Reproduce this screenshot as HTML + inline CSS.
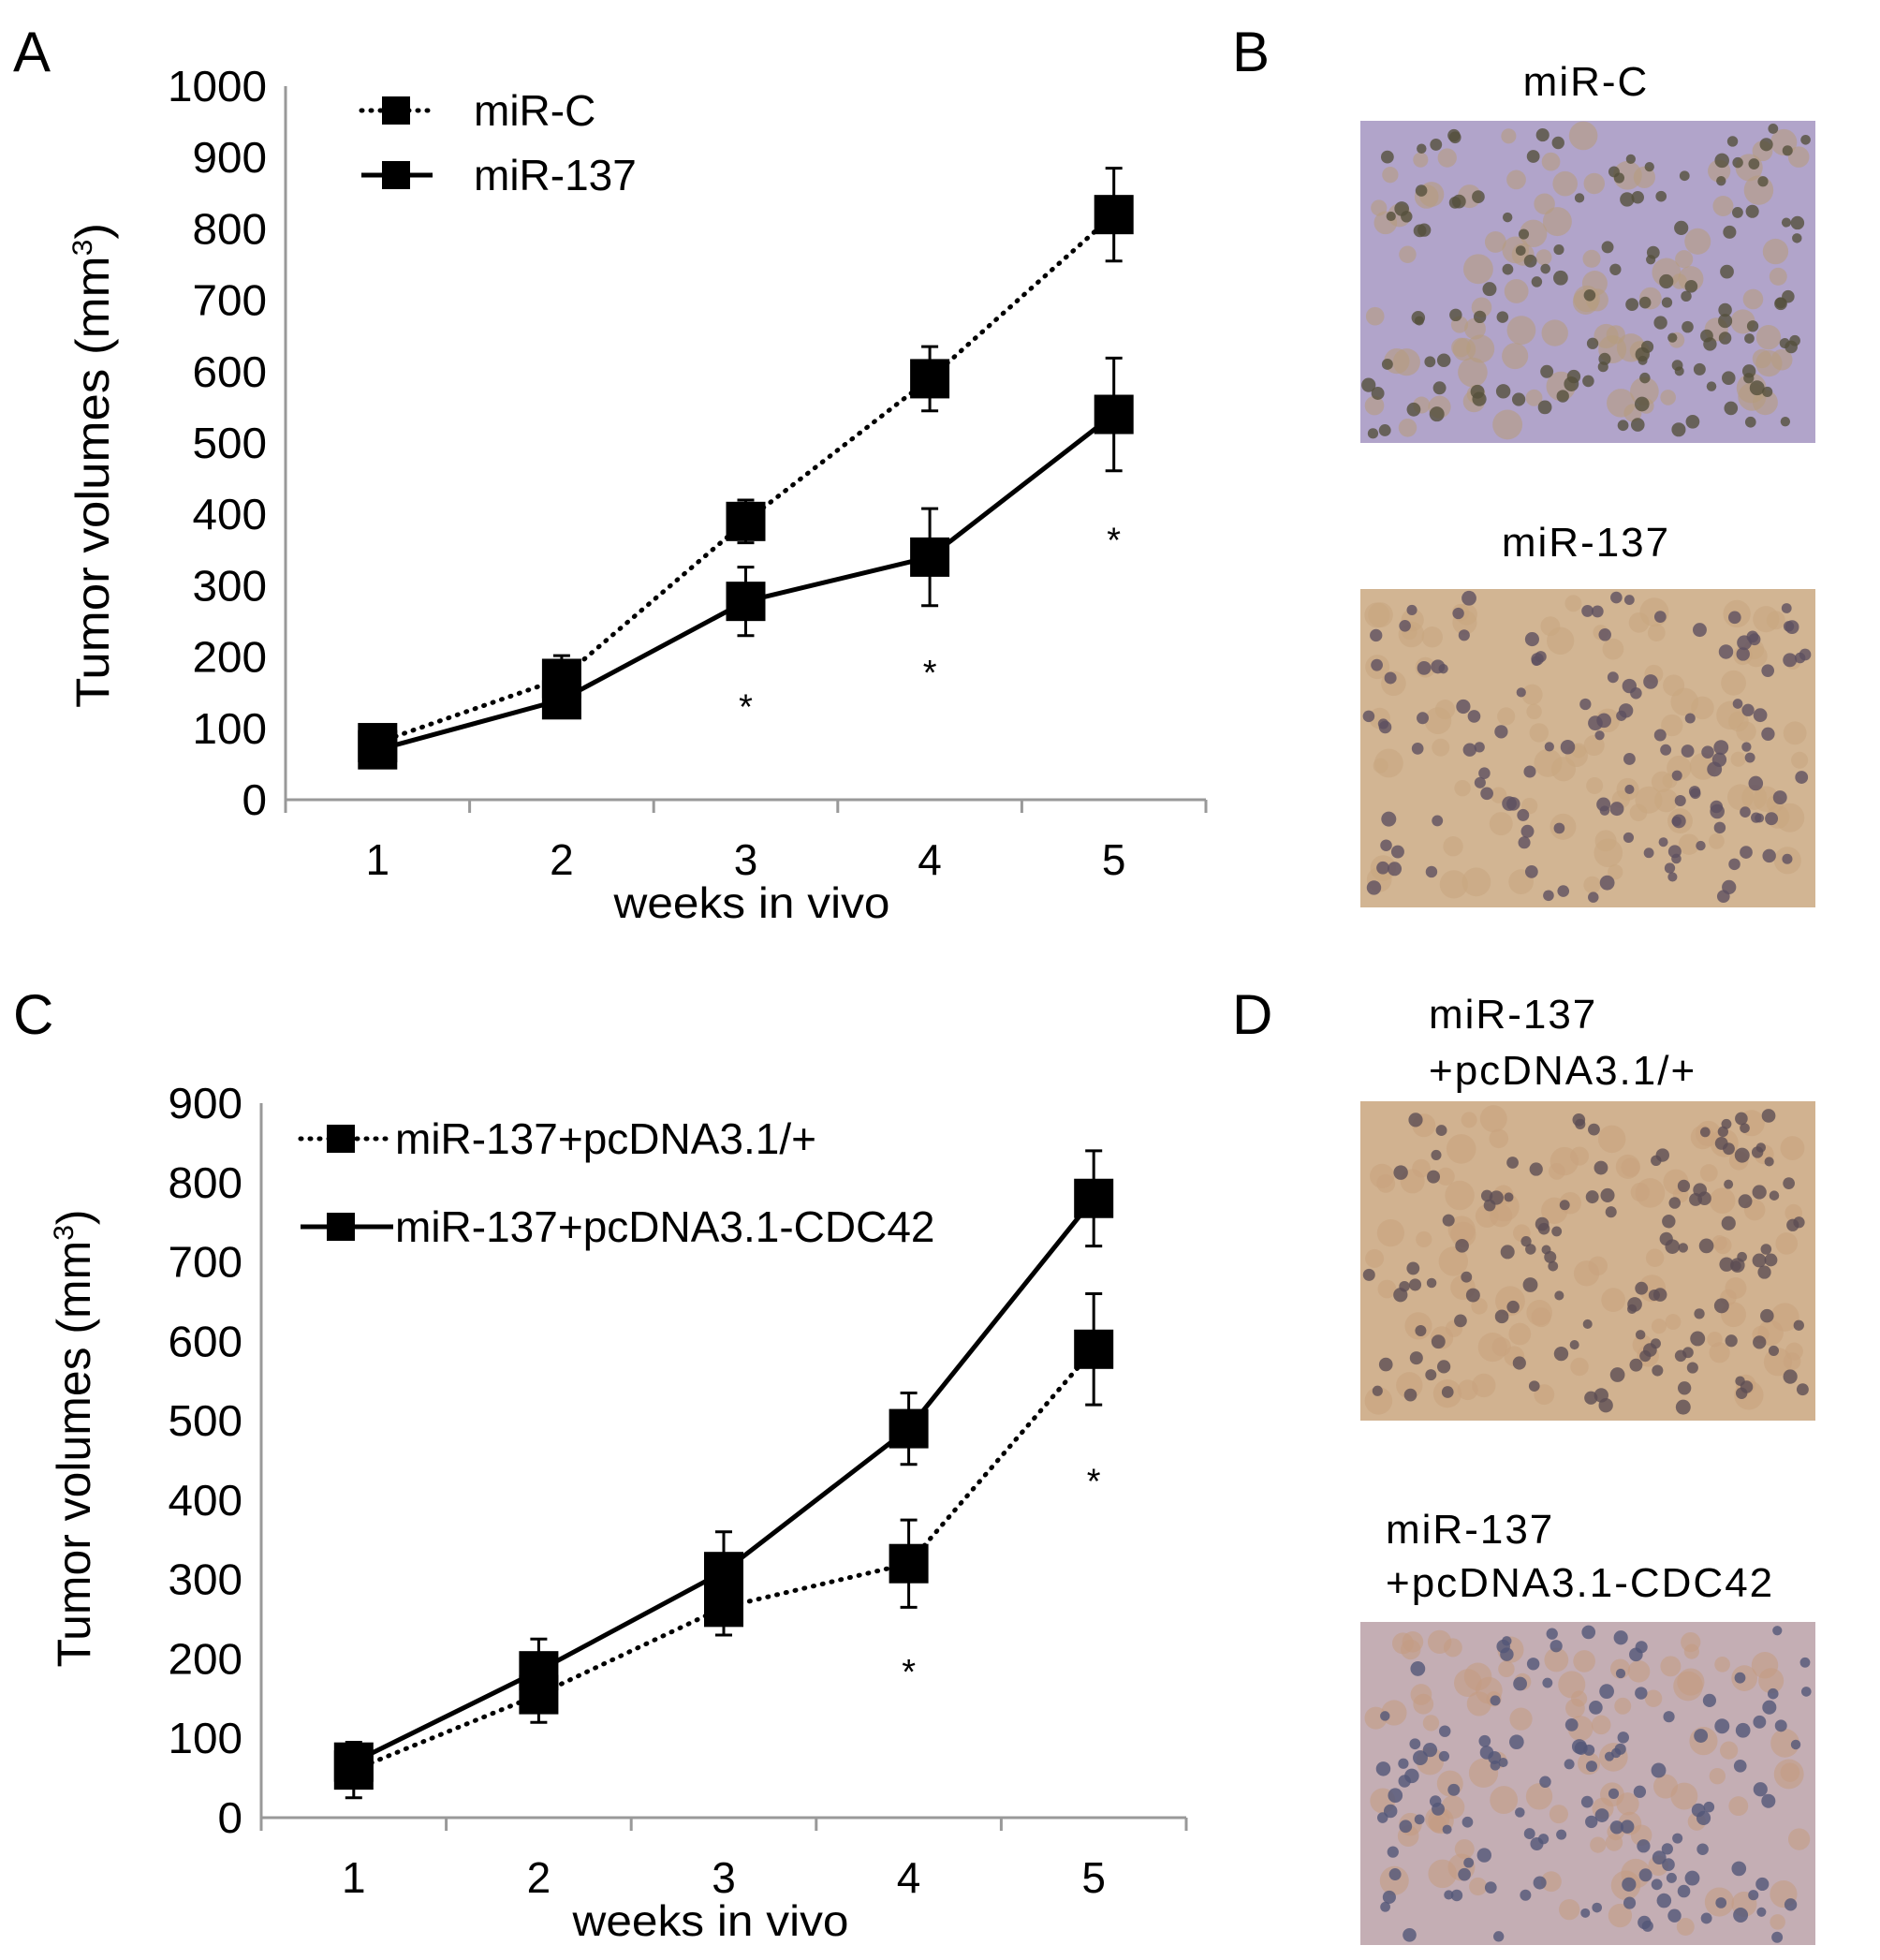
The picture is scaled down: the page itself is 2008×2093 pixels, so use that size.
<!DOCTYPE html>
<html><head><meta charset="utf-8">
<style>
html,body{margin:0;padding:0;background:#fff;}
svg{display:block;font-family:"Liberation Sans",Arial,sans-serif;}
</style></head>
<body>
<svg id="fig" width="2008" height="2093" viewBox="0 0 2008 2093" xmlns="http://www.w3.org/2000/svg">
<rect width="2008" height="2093" fill="#fff"/>
<text x="14" y="76" font-size="60">A</text>
<text x="1316" y="76" font-size="60">B</text>
<text x="14" y="1104" font-size="60">C</text>
<text x="1316" y="1104" font-size="60">D</text>

<text x="1694" y="102" font-size="44" text-anchor="middle" letter-spacing="2">miR-C</text>
<text x="1694" y="594" font-size="44" text-anchor="middle" letter-spacing="2">miR-137</text>
<text x="1526" y="1098" font-size="44" letter-spacing="2">miR-137</text>
<text x="1526" y="1158" font-size="44" letter-spacing="2">+pcDNA3.1/+</text>
<text x="1480" y="1648" font-size="44" letter-spacing="2">miR-137</text>
<text x="1480" y="1705" font-size="44" letter-spacing="2">+pcDNA3.1-CDC42</text>
<g id="imgs"></g>
<g id="chartA"></g>
<g id="chartC"></g>
</svg>
<script>
// ---- Chart A data ----
const weeksA = ["1","2","3","4","5"];
const mirC = [80, 170, 390, 590, 820];
const mirCErr = [12, 32, 30, 45, 65];
const mir137 = [70, 140, 278, 340, 540];
const mir137Err = [12, 15, 48, 68, 79];
const yTicksA = [0,100,200,300,400,500,600,700,800,900,1000];
const starsA = [[2,137],[3,185],[4,371]];
// ---- Chart C data ----
const weeksC = ["1","2","3","4","5"];
const pcdna = [60, 155, 265, 320, 590];
const pcdnaErr = [35, 35, 35, 55, 70];
const cdc42 = [70, 185, 310, 490, 780];
const cdc42Err = [20, 40, 50, 45, 60];
const yTicksC = [0,100,200,300,400,500,600,700,800,900];
const starsC = [[3,190],[4,430]];

const NS="http://www.w3.org/2000/svg";
function mk(parent, tag, attrs){const e=document.createElementNS(NS,tag);for(const k in attrs)e.setAttribute(k,attrs[k]);parent.appendChild(e);return e;}

function drawChart(g, cfg){
  const yS = v => cfg.y0 - v / cfg.ymax * (cfg.y0 - cfg.yTop);
  const step = (cfg.xEnd - cfg.x0) / cfg.cats.length;
  const xS = i => cfg.x0 + step*(i+0.5);
  const ya = mk(g,'line',{x1:cfg.x0,y1:cfg.yTop,x2:cfg.x0,y2:cfg.y0,stroke:'#999','stroke-width':3});
  
  
  const xa = mk(g,'line',{x1:cfg.x0,y1:cfg.y0,x2:cfg.xEnd,y2:cfg.y0,stroke:'#999','stroke-width':3});
  
  
  for(let i=0;i<=cfg.cats.length;i++){
    const t=mk(g,'line',{x1:cfg.x0+step*i,y1:cfg.y0,x2:cfg.x0+step*i,y2:cfg.y0+14,stroke:'#999','stroke-width':3});
    
    
  }
  cfg.ticks.forEach(v=>{
    const s=String(v);
    const t=mk(g,'text',{x:cfg.x0-20,y:yS(v)+16,'font-size':46,'text-anchor':'end',textLength:s.length*26.5,lengthAdjust:'spacingAndGlyphs'});
    t.textContent=s;
    
    
  });
  cfg.cats.forEach((c,i)=>{
    const t=mk(g,'text',{x:xS(i),y:cfg.y0+80,'font-size':46,'text-anchor':'middle'});
    t.textContent=c;
    
    
  });
  const xt=mk(g,'text',{x:cfg.xtX,y:cfg.y0+126,'font-size':46,'text-anchor':'middle',textLength:295,lengthAdjust:'spacingAndGlyphs'});
  xt.textContent='weeks in vivo';
  
  
  const yt=mk(g,'text',{x:0,y:0,'font-size':50,'text-anchor':'middle',transform:`translate(${cfg.ytX},${cfg.ytY}) rotate(-90)`,textLength:cfg.ytLen,lengthAdjust:'spacingAndGlyphs'});
  yt.innerHTML='Tumor volumes (mm<tspan dy="-18" font-size="30">3</tspan><tspan dy="18">)</tspan>';
  
  
  cfg.series.forEach(s=>{
    const sg=mk(g,'g',{});
    
    
    const pts=s.vals.map((v,i)=>xS(i)+','+yS(v)).join(' ');
    const pl=mk(sg,'polyline',{points:pts,fill:'none',stroke:'#000','stroke-width':5,'stroke-dasharray':s.dotted?'1 9':'none','stroke-linecap':s.dotted?'round':'butt'});
    
    
    s.vals.forEach((v,i)=>{
      const e=s.err[i], x=xS(i);
      const eb=mk(sg,'path',{d:`M${x},${yS(v+e)}V${yS(v-e)}M${x-9},${yS(v+e)}H${x+9}M${x-9},${yS(v-e)}H${x+9}`,stroke:'#000','stroke-width':3,fill:'none'});
      
      
      const m=mk(sg,'rect',{x:x-21,y:yS(v)-21,width:42,height:42,fill:'#000'});
      
      
    });
  });
  cfg.stars.forEach(([i,v])=>{
    const t=mk(g,'text',{x:xS(i),y:yS(v)+18,'font-size':38,'text-anchor':'middle'});
    t.textContent='*';
    
    
  });
  cfg.legend.forEach(L=>{
    const lg=mk(g,'g',{});
    
    
    mk(lg,'line',{x1:L.x1,y1:L.y,x2:L.x2,y2:L.y,stroke:'#000','stroke-width':5,'stroke-dasharray':L.dotted?'1 9':'none','stroke-linecap':L.dotted?'round':'butt'});
    mk(lg,'rect',{x:L.mx-15,y:L.y-15,width:30,height:30,fill:'#000'});
    const t=mk(lg,'text',{x:L.tx,y:L.y+16,'font-size':46});
    t.textContent=L.label;
  });
}

drawChart(document.getElementById('chartA'),{
  x0:305,xEnd:1288,y0:854,yTop:92,ymax:1000,cats:weeksA,ticks:yTicksA,
  xtX:803,ytX:116,ytY:497,ytLen:518,
  series:[{name:'series-mir-c',vals:mirC,err:mirCErr,dotted:true},{name:'series-mir-137',vals:mir137,err:mir137Err,dotted:false}],
  stars:starsA,
  legend:[{x1:386,x2:462,mx:423,y:118,tx:506,label:'miR-C',dotted:true},{x1:386,x2:462,mx:423,y:187,tx:506,label:'miR-137',dotted:false}]
});
drawChart(document.getElementById('chartC'),{
  x0:279,xEnd:1267,y0:1941,yTop:1178,ymax:900,cats:weeksC,ticks:yTicksC,
  xtX:759,ytX:96,ytY:1536,ytLen:489,
  series:[{name:'series-pcdna',vals:pcdna,err:pcdnaErr,dotted:true},{name:'series-cdc42',vals:cdc42,err:cdc42Err,dotted:false}],
  stars:starsC,
  legend:[{x1:321,x2:420,mx:364,y:1216,tx:422,label:'miR-137+pcDNA3.1/+',dotted:true},{x1:321,x2:420,mx:364,y:1310,tx:422,label:'miR-137+pcDNA3.1-CDC42',dotted:false}]
});

// ---- Histology images (textured fills) ----
const imgs=document.getElementById('imgs');
const panels=[
  {name:'histology-mir-c',x:1453,y:129,w:486,h:344,bg:'#b1a4ca',cell:'#b59d7e',nuc:'#55503c'},
  {name:'histology-mir-137',x:1453,y:629,w:486,h:340,bg:'#d2b593',cell:'#c8a681',nuc:'#5e5060'},
  {name:'histology-pcdna',x:1453,y:1176,w:486,h:341,bg:'#d1b290',cell:'#c8a37e',nuc:'#5c4e54'},
  {name:'histology-cdc42',x:1453,y:1732,w:486,h:345,bg:'#c4aeb4',cell:'#c49c84',nuc:'#525678'}
];
let seed=7;function rnd(){seed=(seed*16807)%2147483647;return seed/2147483647;}
panels.forEach(p=>{
  const g=mk(imgs,'g',{});
  
  
  mk(g,'rect',{x:p.x,y:p.y,width:p.w,height:p.h,fill:p.bg});
  for(let k=0;k<90;k++){
    mk(g,'circle',{cx:p.x+15+rnd()*(p.w-30),cy:p.y+15+rnd()*(p.h-30),r:8+rnd()*8,fill:p.cell,opacity:0.6});
  }
  for(let k=0;k<130;k++){
    mk(g,'circle',{cx:p.x+8+rnd()*(p.w-16),cy:p.y+8+rnd()*(p.h-16),r:5+rnd()*3,fill:p.nuc,opacity:0.8});
  }
});
</script>
</body></html>
